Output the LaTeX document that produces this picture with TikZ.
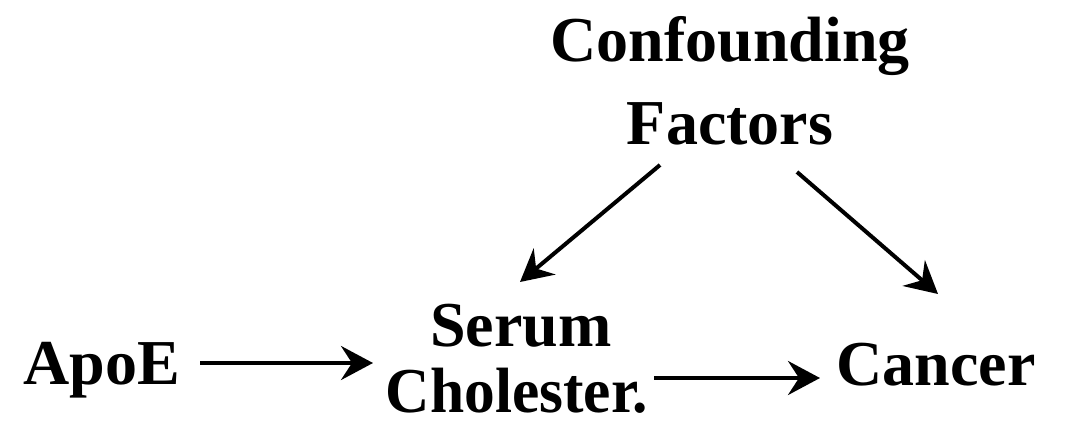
\documentclass[tikz,border=0pt]{standalone}
\usepackage{fontspec}
\setmainfont{Liberation Serif}
\usetikzlibrary{arrows.meta}
\begin{document}
\begin{tikzpicture}[x=1pt,y=-1pt,
  lbl/.style={font=\fontsize{64}{64}\selectfont\bfseries, inner sep=0pt, align=center},
  arr/.style={line width=4pt, -{Stealth[length=32pt,width=34pt,inset=11pt]}}]
\useasboundingbox (0,0) rectangle (1065,439);
\node[lbl] (cf1) at (730,46) {Confounding};
\node[lbl] (cf2) at (730,124) {Factors};
\node[lbl] (s1) at (521,326) {Serum};
\node[lbl, xscale=0.96] (s2) at (517,391) {Cholester.};
\node[lbl] (apoe) at (102,370) {ApoE};
\node[lbl] (cancer) at (936,365) {Cancer};
\coordinate (a1) at (200,363);
\coordinate (a2) at (373,363);
\coordinate (b1) at (654,378);
\coordinate (b2) at (820,378);
\coordinate (c1) at (660,165);
\coordinate (c2) at (520,282);
\coordinate (d1) at (797,172);
\coordinate (d2) at (938,294);
\draw[arr] (a1) -- (a2);
\draw[arr] (b1) -- (b2);
\draw[arr] (c1) -- (c2);
\draw[arr] (d1) -- (d2);
\end{tikzpicture}
\end{document}
